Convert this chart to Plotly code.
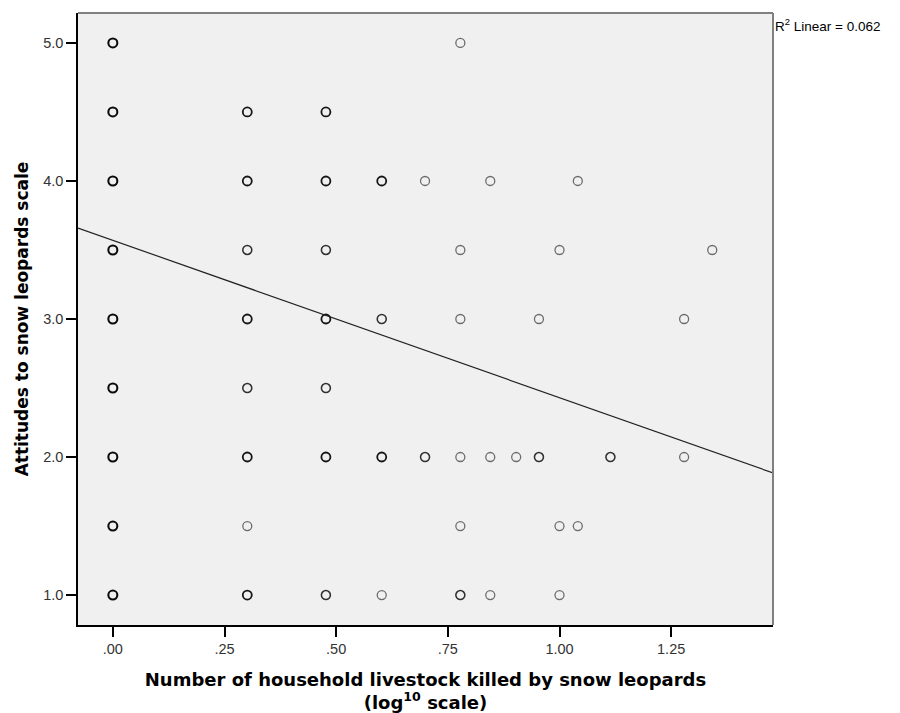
import plotly.graph_objects as go
import numpy as np

# Data (x = log10 of livestock killed, y = attitude scale)
x_vals = [
    0.000, 0.778,
    0.000, 0.301, 0.477,
    0.000, 0.301, 0.477, 0.602, 0.699, 0.845, 1.041,
    0.000, 0.301, 0.477, 0.778, 1.000, 1.342,
    0.000, 0.301, 0.477, 0.602, 0.778, 0.954, 1.279,
    0.000, 0.301, 0.477,
    0.000, 0.301, 0.477, 0.602, 0.699, 0.778, 0.845, 0.903, 0.954, 1.114, 1.279,
    0.000, 0.301, 0.778, 1.000, 1.041,
    0.000, 0.301, 0.477, 0.602, 0.778, 0.845, 1.000,
]
y_vals = [
    5.0, 5.0,
    4.5, 4.5, 4.5,
    4.0, 4.0, 4.0, 4.0, 4.0, 4.0, 4.0,
    3.5, 3.5, 3.5, 3.5, 3.5, 3.5,
    3.0, 3.0, 3.0, 3.0, 3.0, 3.0, 3.0,
    2.5, 2.5, 2.5,
    2.0, 2.0, 2.0, 2.0, 2.0, 2.0, 2.0, 2.0, 2.0, 2.0, 2.0,
    1.5, 1.5, 1.5, 1.5, 1.5,
    1.0, 1.0, 1.0, 1.0, 1.0, 1.0, 1.0,
]
# estimated number of overlapping respondents at each point
counts = [
    4, 1,
    4, 3, 3,
    4, 3, 3, 3, 1, 1, 1,
    4, 2, 2, 1, 1, 1,
    4, 3, 3, 2, 1, 1, 1,
    4, 2, 2,
    4, 3, 3, 3, 2, 1, 1, 1, 2, 2, 1,
    4, 1, 1, 1, 1,
    4, 3, 2, 1, 2, 1, 1,
]

# Linear fit (R^2 = 0.062)
fit_intercept = 3.57
fit_slope = -1.14
r_squared = 0.062

x_tickvals = [0.0, 0.25, 0.5, 0.75, 1.0, 1.25]
x_ticktext = [".00", ".25", ".50", ".75", "1.00", "1.25"]
y_tickvals = [1.0, 2.0, 3.0, 4.0, 5.0]
y_ticktext = ["1.0", "2.0", "3.0", "4.0", "5.0"]

x_range = [-0.078, 1.478]
y_range = [0.783, 5.217]

alphas = [1 - (1 - 0.55) ** c for c in counts]
line_colors = [f"rgba(0,0,0,{a:.2f})" for a in alphas]
line_widths = [1.3 + 0.25 * (c - 1) for c in counts]

fig = go.Figure()
fig.add_trace(go.Scatter(
    x=x_vals, y=y_vals, mode="markers",
    marker=dict(symbol="circle-open", size=9, color=line_colors,
                line=dict(width=line_widths, color=line_colors)),
    showlegend=False, hoverinfo="x+y",
))
fx = np.array(x_range)
fig.add_trace(go.Scatter(
    x=fx, y=fit_intercept + fit_slope * fx, mode="lines",
    line=dict(color="#222222", width=1.2), showlegend=False,
))

axis_font = dict(family="Liberation Sans, Arial, sans-serif", size=14.5, color="#333333")

fig.update_xaxes(
    range=x_range, tickvals=x_tickvals, ticktext=x_ticktext, automargin=False,
    showgrid=False, zeroline=False, showline=True, linecolor="#000000", linewidth=1.5,
    ticks="outside", ticklen=10, tickwidth=1.5, tickcolor="#000000",
    tickfont=axis_font,
    title=dict(text="<b>Number of household livestock killed by snow leopards<br>(log<sup>10</sup> scale)</b>",
               font=dict(family="DejaVu Sans, Verdana, sans-serif", size=18, color="#000000"),
               standoff=18),
)
fig.update_yaxes(
    range=y_range, tickvals=y_tickvals, ticktext=y_ticktext, automargin=False,
    showgrid=False, zeroline=False, showline=True, linecolor="#000000", linewidth=1.5,
    ticks="outside", ticklen=10, tickwidth=1.5, tickcolor="#000000",
    tickfont=axis_font,
    title=dict(text="<b>Attitudes to snow leopards scale</b>",
               font=dict(family="DejaVu Sans, Verdana, sans-serif", size=17, color="#000000"),
               standoff=10),
)

# gray top/right frame
fig.add_shape(type="line", xref="paper", yref="paper", x0=0, x1=1, y0=1, y1=1,
              line=dict(color="#808080", width=2))
fig.add_shape(type="line", xref="paper", yref="paper", x0=1, x1=1, y0=0, y1=1,
              line=dict(color="#808080", width=2))

fig.add_annotation(
    xref="paper", yref="paper", x=1.0, y=1.0, xanchor="left", yanchor="top",
    text=f"R<sup>2</sup> Linear = {r_squared:.3f}", showarrow=False,
    font=dict(family="Liberation Sans, Arial, sans-serif", size=13.5, color="#000000"),
    xshift=0, yshift=-1,
)

fig.update_layout(
    width=900, height=713,
    margin=dict(l=78, r=127, t=13, b=88),
    paper_bgcolor="#ffffff", plot_bgcolor="#f0f0f0",
)

fig.write_html("out.html")
